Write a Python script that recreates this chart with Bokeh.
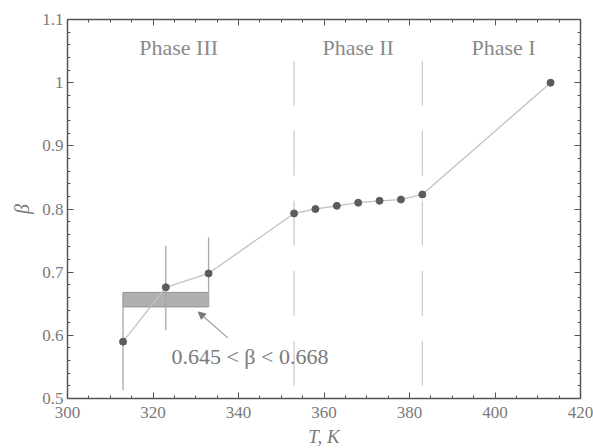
from bokeh.plotting import figure
from bokeh.models import (FixedTicker, LinearAxis, Range1d, Label, Arrow, NormalHead,
                          CustomJSTickFormatter)
from bokeh.embed import file_html
from bokeh.resources import INLINE

# data
T = [313, 323, 333, 353, 358, 363, 368, 373, 378, 383, 413]
beta = [0.590, 0.676, 0.698, 0.793, 0.800, 0.805, 0.810, 0.813, 0.815, 0.823, 1.000]
err_T = [313, 323, 333]
err_low = [0.513, 0.608, 0.645]
err_high = [0.668, 0.742, 0.755]
band_T = [313, 333]
band_beta = [0.645, 0.668]
phase_bounds = [353, 383]
phase_names = ["Phase III", "Phase II", "Phase I"]
phase_centers = [326, 368, 402]
x_ticks = [300, 320, 340, 360, 380, 400, 420]
y_ticks = [0.5, 0.6, 0.7, 0.8, 0.9, 1.0, 1.1]
y_tick_labels = ["0.5", "0.6", "0.7", "0.8", "0.9", "1", "1.1"]

FONT = "Liberation Serif"
TXT = "#7a7a7a"
FRAME = "#555555"

p = figure(width=593, height=448, frame_width=513, frame_height=379,
           min_border_left=67, min_border_right=13, min_border_top=19, min_border_bottom=50,
           x_range=Range1d(300, 420), y_range=Range1d(0.5, 1.1),
           output_backend="svg", toolbar_location=None)
p.grid.visible = False
p.outline_line_color = FRAME
p.outline_line_width = 1.5
p.background_fill_color = "white"
p.border_fill_color = "white"

xt = FixedTicker(ticks=x_ticks, minor_ticks=[300 + 5 * i for i in range(25)])
yt = FixedTicker(ticks=y_ticks, minor_ticks=[round(0.5 + 0.02 * i, 2) for i in range(31)])

def style(ax):
    ax.axis_line_color = None
    ax.major_tick_in = 6
    ax.major_tick_out = 0
    ax.minor_tick_in = 3
    ax.minor_tick_out = 0
    ax.major_tick_line_color = FRAME
    ax.minor_tick_line_color = FRAME
    ax.major_label_text_font = FONT
    ax.major_label_text_font_size = "17px"
    ax.major_label_text_color = TXT

xa = p.xaxis[0]
xa.ticker = xt
style(xa)
xa.major_label_standoff = 8
xa.axis_label = "T, K"
xa.axis_label_text_font = FONT
xa.axis_label_text_font_style = "italic"
xa.axis_label_text_font_size = "19px"
xa.axis_label_text_color = TXT
xa.axis_label_standoff = 5

ya = p.yaxis[0]
ya.ticker = yt
style(ya)
ya.major_label_standoff = 4
ya.major_label_overrides = {v: s for v, s in zip(y_ticks, y_tick_labels)}
ya.axis_label = "β"
ya.axis_label_text_font = FONT
ya.axis_label_text_font_style = "italic"
ya.axis_label_text_font_size = "20px"
ya.axis_label_text_color = TXT
ya.axis_label_standoff = 6

blank = CustomJSTickFormatter(code="return ''")
top = LinearAxis(ticker=xt, formatter=blank, major_label_standoff=0)
style(top)
p.add_layout(top, "above")
right = LinearAxis(ticker=yt, formatter=blank, major_label_standoff=0)
style(right)
p.add_layout(right, "right")

# phase boundaries
for b in phase_bounds:
    p.segment(x0=[b], y0=[0.52], x1=[b], y1=[1.07], line_color="#c8c8c8",
              line_width=1.2, line_dash="45 25")

# band
p.quad(left=[band_T[0]], right=[band_T[1]], bottom=[band_beta[0]], top=[band_beta[1]],
       fill_color="#b0b0b0", line_color="#909090", line_width=1)

# error bars
p.segment(x0=err_T, y0=err_low, x1=err_T, y1=err_high, line_color="#a8a8a8", line_width=1.3)

# data line and markers
p.line(T, beta, line_color="#c2c2c2", line_width=1.3)
p.scatter(T, beta, size=7, fill_color="#5c5c5c", line_color="#5c5c5c")

# phase labels
for name, c in zip(phase_names, phase_centers):
    p.add_layout(Label(x=c, y=1.055, text=name, text_font=FONT, text_font_size="22px",
                       text_color="#8a8a8a", text_align="center", text_baseline="middle"))

# annotation
p.add_layout(Arrow(end=NormalHead(size=7, fill_color="#777777", line_color="#777777"),
                   x_start=337.5, y_start=0.596, x_end=330.6, y_end=0.637,
                   line_color="#999999", line_width=1.2))
p.add_layout(Label(x=324.3, y=0.566, text="0.645 < β < 0.668", text_font=FONT,
                   text_font_size="22px", text_color="#7a7a7a",
                   text_align="left", text_baseline="middle"))

open("out.html", "w").write(file_html(p, INLINE))
